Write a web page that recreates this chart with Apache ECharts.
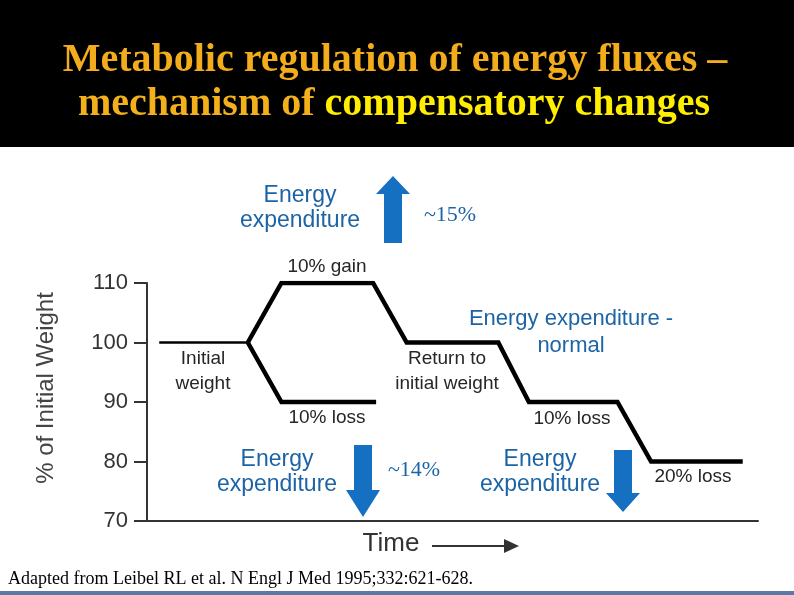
<!DOCTYPE html>
<html>
<head>
<meta charset="utf-8">
<script src="https://cdn.jsdelivr.net/npm/echarts@6/dist/echarts.min.js"></script>
<style>html,body{margin:0;padding:0;background:#fff}#c{width:794px;height:595px}</style>
</head>
<body>
<div id="c"></div>
<script>
// ---- data ----
const titleLine1 = "Metabolic regulation of energy fluxes \u2013";
const titleLine2a = "mechanism of ";
const titleLine2b = "compensatory changes";
const yTicks = [70, 80, 90, 100, 110];
const yAxisName = "% of Initial Weight";
const xAxisName = "Time";
// time (arbitrary units), weight (% of initial)
const initialTime = [2, 16.5];
const initialWeight = [100, 100];
const gainPathTime = [16.5, 22, 37, 42.5, 57.5, 62.5, 77, 82.5, 97.5];
const gainPathWeight = [100, 110, 110, 100, 100, 90, 90, 80, 80];
const lossPathTime = [16.5, 22, 37.5];
const lossPathWeight = [100, 90, 90];
const phaseLabels = ["Initial\nweight", "10% gain", "10% loss", "Return to\ninitial weight", "10% loss", "20% loss"];
const eeLabel = "Energy\nexpenditure";
const eeNormal = "Energy expenditure -\nnormal";
const pctUp = "~15%";
const pctDown = "~14%";
const source = "Adapted from Leibel RL et al. N Engl J Med 1995;332:621-628.";

const zip = (a, b) => a.map((v, i) => [v, b[i]]);

const chart = echarts.init(document.getElementById('c'), null, {renderer: 'canvas'});
const blue = '#1c64a6';
const arrowBlue = '#1570c2';
const labelColor = '#262626';

function upArrow(cx, tipY, headY, botY) {
  return {type: 'polygon', shape: {points: [[cx, tipY], [cx + 17, headY], [cx + 9, headY], [cx + 9, botY], [cx - 9, botY], [cx - 9, headY], [cx - 17, headY]]}, style: {fill: arrowBlue}, z: 10};
}
function downArrow(cx, topY, headY, tipY) {
  return {type: 'polygon', shape: {points: [[cx - 9, topY], [cx + 9, topY], [cx + 9, headY], [cx + 17, headY], [cx, tipY], [cx - 17, headY], [cx - 9, headY]]}, style: {fill: arrowBlue}, z: 10};
}
function txt(x, y, text, font, color, lh) {
  return {type: 'text', x: x, y: y, z: 20, style: {text: text, font: font, fill: color, align: 'center', verticalAlign: 'middle', lineHeight: lh || 25}};
}

const option = {
  backgroundColor: '#fff',
  animation: false,
  grid: {left: 147, right: 36, top: 283, bottom: 74, containLabel: false},
  xAxis: {
    type: 'value', min: 0, max: 100,
    axisLine: {show: true, lineStyle: {color: '#333', width: 2}},
    axisTick: {show: false}, axisLabel: {show: false}, splitLine: {show: false}
  },
  yAxis: {
    type: 'value', min: 70, max: 110, interval: 10,
    axisLine: {show: true, lineStyle: {color: '#333', width: 2}},
    axisTick: {show: true, inside: false, length: 13, lineStyle: {color: '#333', width: 2}},
    axisLabel: {color: '#333', fontSize: 22, fontFamily: 'Liberation Sans', margin: 19,
      formatter: v => yTicks.indexOf(v) >= 0 ? String(v) : ''},
    splitLine: {show: false}
  },
  series: [
    {type: 'line', data: zip(initialTime, initialWeight), symbol: 'none', lineStyle: {color: '#000', width: 2.5}},
    {type: 'line', data: zip(gainPathTime, gainPathWeight), symbol: 'none', lineStyle: {color: '#000', width: 4.5, join: 'miter'}},
    {type: 'line', data: zip(lossPathTime, lossPathWeight), symbol: 'none', lineStyle: {color: '#000', width: 4.5, join: 'miter'}}
  ],
  graphic: [
    {type: 'rect', shape: {x: 0, y: 0, width: 794, height: 147}, style: {fill: '#000'}, z: 1},
    {type: 'text', x: 395, y: 61, z: 5,
      style: {text: titleLine1, font: 'bold 40px "Liberation Serif"', fill: '#f3ac1c', align: 'center', verticalAlign: 'middle'}},
    {type: 'text', x: 394, y: 105, z: 5,
      style: {text: '{a|' + titleLine2a + '}{b|' + titleLine2b + '}', align: 'center', verticalAlign: 'middle',
        rich: {a: {font: 'bold 40px "Liberation Serif"', fill: '#f3b01a'}, b: {font: 'bold 40px "Liberation Serif"', fill: '#ffee00'}}}},
    // axis name & time
    {type: 'text', x: 46, y: 388, rotation: Math.PI / 2, z: 20,
      style: {text: yAxisName, font: '24px "Liberation Sans"', fill: '#444', align: 'center', verticalAlign: 'middle'}},
    txt(391, 544, xAxisName, '26px "Liberation Sans"', '#333'),
    {type: 'line', shape: {x1: 432, y1: 546, x2: 508, y2: 546}, style: {stroke: '#333', lineWidth: 2}, z: 20},
    {type: 'polygon', shape: {points: [[504, 539], [519, 546], [504, 553]]}, style: {fill: '#333'}, z: 20},
    // phase labels
    txt(203, 371, phaseLabels[0], '19px "Liberation Sans"', labelColor),
    txt(327, 267, phaseLabels[1], '19px "Liberation Sans"', labelColor),
    txt(327, 418, phaseLabels[2], '19px "Liberation Sans"', labelColor),
    txt(447, 371, phaseLabels[3], '19px "Liberation Sans"', labelColor),
    txt(572, 419, phaseLabels[4], '19px "Liberation Sans"', labelColor),
    txt(693, 477, phaseLabels[5], '19px "Liberation Sans"', labelColor),
    // energy expenditure annotations
    txt(300, 208, eeLabel, '23px "Liberation Sans"', blue),
    upArrow(393, 176, 194, 243),
    txt(450, 215, pctUp, '22px "Liberation Serif"', blue),
    txt(571, 332, eeNormal, '22px "Liberation Sans"', blue, 27),
    txt(277, 472, eeLabel, '23px "Liberation Sans"', blue),
    downArrow(363, 445, 490, 517),
    txt(414, 470, pctDown, '22px "Liberation Serif"', blue),
    txt(540, 472, eeLabel, '23px "Liberation Sans"', blue),
    downArrow(623, 450, 493, 512),
    // footer
    {type: 'text', x: 8, y: 579, z: 20,
      style: {text: source, font: '18px "Liberation Serif"', fill: '#000', align: 'left', verticalAlign: 'middle'}},
    {type: 'rect', shape: {x: 0, y: 591, width: 794, height: 4}, style: {fill: '#5a78a8'}, z: 20}
  ]
};
chart.setOption(option);
</script>
</body>
</html>
